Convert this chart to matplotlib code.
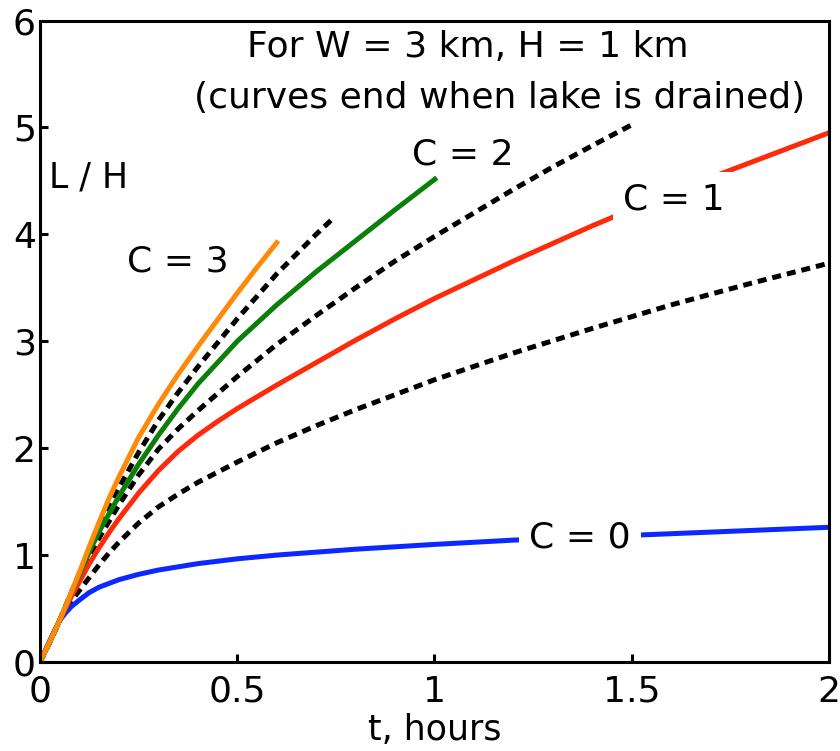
import matplotlib
matplotlib.use("Agg")
import matplotlib.pyplot as plt

# curves: t (hours), L/H
t_c0 = [0, 0.03, 0.05, 0.065, 0.08, 0.1, 0.125, 0.15, 0.2, 0.25, 0.3, 0.4, 0.5, 0.6, 0.8, 1.0, 1.2, 1.4, 1.6, 1.8, 2.0]
l_c0 = [0, 0.24, 0.39, 0.46, 0.52, 0.58, 0.65, 0.70, 0.77, 0.82, 0.86, 0.92, 0.965, 1.0, 1.055, 1.10, 1.14, 1.17, 1.20, 1.23, 1.26]

t_c1 = [0, 0.025, 0.05, 0.075, 0.1, 0.125, 0.15, 0.175, 0.2, 0.25, 0.3, 0.35, 0.4, 0.45, 0.5, 0.6, 0.7,
        0.8, 0.9, 1.0, 1.2, 1.4, 1.6, 1.8, 2.0]
l_c1 = [0, 0.19, 0.39, 0.58, 0.75, 0.92, 1.07, 1.21, 1.34, 1.58, 1.79, 1.97, 2.12, 2.25, 2.37, 2.59, 2.80,
        3.01, 3.21, 3.40, 3.75, 4.08, 4.39, 4.67, 4.95]

t_c2 = [0, 0.025, 0.05, 0.075, 0.1, 0.125, 0.15, 0.2, 0.25, 0.3, 0.35, 0.4, 0.5, 0.6, 0.7, 0.8, 0.9, 1.006]
l_c2 = [0, 0.19, 0.39, 0.61, 0.82, 1.03, 1.22, 1.55, 1.85, 2.12, 2.37, 2.60, 3.00, 3.34, 3.65, 3.94, 4.23, 4.53]

t_c3 = [0, 0.025, 0.05, 0.075, 0.1, 0.125, 0.15, 0.175, 0.2, 0.25, 0.3, 0.35, 0.4, 0.45, 0.5, 0.55, 0.604]
l_c3 = [0, 0.19, 0.39, 0.61, 0.84, 1.08, 1.31, 1.53, 1.73, 2.10, 2.41, 2.69, 2.95, 3.20, 3.45, 3.69, 3.94]

# dotted reference curves
t_d1 = [0, 0.025, 0.05, 0.075, 0.1, 0.125, 0.15, 0.2, 0.25, 0.3, 0.35, 0.4, 0.5, 0.6, 0.7, 0.743]
l_d1 = [0, 0.19, 0.39, 0.61, 0.83, 1.05, 1.26, 1.63, 1.96, 2.26, 2.52, 2.76, 3.21, 3.63, 4.00, 4.15]

t_d2 = [0, 0.025, 0.05, 0.075, 0.1, 0.125, 0.15, 0.2, 0.25, 0.3, 0.35, 0.4, 0.5, 0.6, 0.7, 0.8, 0.9,
        1.0, 1.1, 1.2, 1.3, 1.4, 1.508]
l_d2 = [0, 0.19, 0.39, 0.60, 0.80, 0.99, 1.16, 1.47, 1.75, 1.99, 2.18, 2.35, 2.67, 2.97, 3.24, 3.50, 3.75,
        3.98, 4.20, 4.42, 4.63, 4.83, 5.04]

t_d3 = [0, 0.025, 0.05, 0.075, 0.1, 0.125, 0.15, 0.175, 0.2, 0.25, 0.3, 0.35, 0.4, 0.5, 0.6, 0.7, 0.8,
        1.0, 1.2, 1.4, 1.6, 1.8, 2.0]
l_d3 = [0, 0.19, 0.39, 0.55, 0.67, 0.79, 0.91, 1.02, 1.12, 1.30, 1.45, 1.57, 1.68, 1.87, 2.05, 2.21, 2.36,
        2.64, 2.89, 3.12, 3.34, 3.54, 3.73]

x_ticks = [0, 0.5, 1, 1.5, 2]
x_tick_labels = ["0", "0.5", "1", "1.5", "2"]
y_ticks = [0, 1, 2, 3, 4, 5, 6]

fig = plt.figure(figsize=(8.4, 7.51), dpi=100)
ax = fig.add_axes([0.0476, 0.1185, 0.9393, 0.8542])

dots = (0, (1.8, 1.2))
lw = 3.6
ax.plot(t_d1, l_d1, color="black", lw=lw, linestyle=dots)
ax.plot(t_d2, l_d2, color="black", lw=lw, linestyle=dots)
ax.plot(t_d3, l_d3, color="black", lw=lw, linestyle=dots)
ax.plot(t_c0, l_c0, color="#0a28ff", lw=lw, solid_capstyle="butt")
ax.plot(t_c1, l_c1, color="#ff2a0a", lw=lw, solid_capstyle="butt")
ax.plot(t_c2, l_c2, color="#0a800a", lw=lw, solid_capstyle="butt")
ax.plot(t_c3, l_c3, color="#ff8a0a", lw=lw, solid_capstyle="butt")

fs = 26
ax.text(1.084, 5.66, "For W = 3 km, H = 1 km", fontsize=fs, ha="center", va="baseline")
ax.text(1.166, 5.18, "(curves end when lake is drained)", fontsize=fs, ha="center", va="baseline")
ax.text(0.024, 4.44, "L / H", fontsize=25, ha="left", va="baseline")
ax.text(0.35, 3.65, "C = 3", fontsize=fs, ha="center", va="baseline")
ax.text(1.071, 4.65, "C = 2", fontsize=fs, ha="center", va="baseline")
box = dict(boxstyle="square,pad=0.28", fc="white", ec="none")
ax.text(1.607, 4.235, "C = 1", fontsize=fs, ha="center", va="baseline", bbox=box)
ax.text(1.369, 1.067, "C = 0", fontsize=fs, ha="center", va="baseline", bbox=box)

ax.set_xlim(0, 2)
ax.set_ylim(0, 6)
ax.set_xticks(x_ticks)
ax.set_xticklabels(x_tick_labels)
ax.set_yticks(y_ticks)
ax.tick_params(direction="in", length=6, width=2.2, labelsize=fs, top=False, right=False)
ax.tick_params(axis="x", pad=9)
ax.tick_params(axis="y", pad=3)
for s in ax.spines.values():
    s.set_linewidth(2.2)
ax.set_xlabel("t, hours", fontsize=25, labelpad=3)

fig.savefig("out.png", dpi=100)
